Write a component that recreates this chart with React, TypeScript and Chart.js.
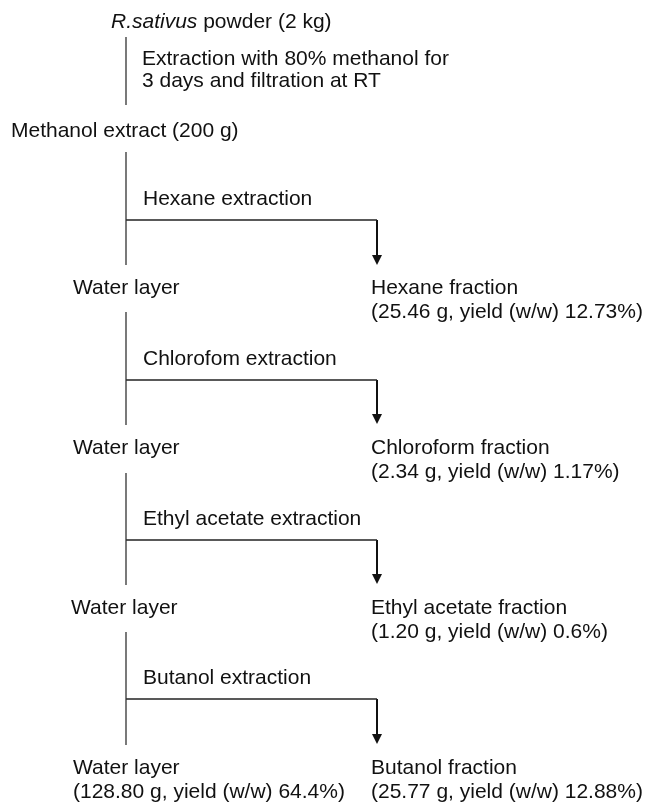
import React, { useEffect, useRef } from "react";
import { Chart, registerables } from "chart.js";

Chart.register(...registerables);

// ---- content ----
const startMaterialItalic = "R.sativus";
const startMaterialRest = " powder (2 kg)";
const firstStepLines = ["Extraction with 80% methanol for", "3 days and filtration at RT"];
const extractName = "Methanol extract (200 g)";
const stepLabels = ["Hexane extraction", "Chlorofom extraction", "Ethyl acetate extraction", "Butanol extraction"];
const fractionNames = ["Hexane fraction", "Chloroform fraction", "Ethyl acetate fraction", "Butanol fraction"];
const fractionDetails = [
  "(25.46 g, yield (w/w) 12.73%)",
  "(2.34 g, yield (w/w) 1.17%)",
  "(1.20 g, yield (w/w) 0.6%)",
  "(25.77 g, yield (w/w) 12.88%)",
];
const waterLabel = "Water layer";
const finalWaterDetail = "(128.80 g, yield (w/w) 64.4%)";

// ---- layout (diagram units) ----
const W = 648;
const H = 803;
const stemX = 126;
const branchX = 377;
const stemSegments: [number, number][] = [
  [37, 105],
  [152, 265],
  [312, 425],
  [473, 585],
  [632, 745],
];
const branchY = [220, 380, 540, 699];
const arrowTipY = [265, 424, 584, 744];
const waterX = [73, 73, 71, 73];
const nodeBaseY = [294, 454, 614, 774];
const lineGap = 24;

const FONT = '"Liberation Sans", Arial, Helvetica, sans-serif';
const FONT_SIZE = 21;
const INK = "#111111";

type Label = { text: string; x: number; y: number; italic?: boolean; after?: string };

function buildLabels(): Label[] {
  const labels: Label[] = [];
  labels.push({ text: startMaterialItalic, x: 111, y: 28, italic: true, after: startMaterialRest });
  firstStepLines.forEach((t, i) => labels.push({ text: t, x: 142, y: 65 + i * 22 }));
  labels.push({ text: extractName, x: 11, y: 137 });
  stepLabels.forEach((t, i) => labels.push({ text: t, x: 143, y: branchY[i] - 15 }));
  fractionNames.forEach((t, i) => {
    labels.push({ text: t, x: 371, y: nodeBaseY[i] });
    labels.push({ text: fractionDetails[i], x: 371, y: nodeBaseY[i] + lineGap });
  });
  nodeBaseY.forEach((y, i) => labels.push({ text: waterLabel, x: waterX[i], y }));
  labels.push({ text: finalWaterDetail, x: 73, y: nodeBaseY[3] + lineGap });
  return labels;
}

const textPlugin = {
  id: "flowText",
  afterDatasetsDraw(chart: any) {
    const { ctx, scales } = chart;
    const sx = scales.x;
    const sy = scales.y;
    ctx.save();
    // arrowheads
    ctx.fillStyle = INK;
    arrowTipY.forEach((tip) => {
      const px = sx.getPixelForValue(branchX);
      const py = sy.getPixelForValue(tip);
      ctx.beginPath();
      ctx.moveTo(px, py);
      ctx.lineTo(px - 5, py - 10);
      ctx.lineTo(px + 5, py - 10);
      ctx.closePath();
      ctx.fill();
    });
    // labels
    ctx.fillStyle = INK;
    ctx.textBaseline = "alphabetic";
    ctx.textAlign = "left";
    buildLabels().forEach((l) => {
      const px = sx.getPixelForValue(l.x);
      const py = sy.getPixelForValue(l.y);
      ctx.font = `${l.italic ? "italic " : ""}${FONT_SIZE}px ${FONT}`;
      ctx.fillText(l.text, px, py);
      if (l.after) {
        const w = ctx.measureText(l.text).width;
        ctx.font = `${FONT_SIZE}px ${FONT}`;
        ctx.fillText(l.after, px + w, py);
      }
    });
    ctx.restore();
  },
};

export default function App() {
  const ref = useRef<HTMLCanvasElement | null>(null);

  useEffect(() => {
    document.body.style.margin = "0";
    const canvas = ref.current;
    if (!canvas) return;

    const datasets: any[] = [];
    stemSegments.forEach(([a, b]) => {
      datasets.push({
        data: [
          { x: stemX, y: a },
          { x: stemX, y: b },
        ],
        borderColor: "#333333",
        borderWidth: 1.3,
      });
    });
    branchY.forEach((y, i) => {
      datasets.push({
        data: [
          { x: stemX, y },
          { x: branchX, y },
        ],
        borderColor: "#222222",
        borderWidth: 1.3,
      });
      datasets.push({
        data: [
          { x: branchX, y },
          { x: branchX, y: arrowTipY[i] - 8 },
        ],
        borderColor: INK,
        borderWidth: 2,
      });
    });
    datasets.forEach((d) => {
      d.showLine = true;
      d.pointRadius = 0;
      d.fill = false;
      d.tension = 0;
      d.borderCapStyle = "butt";
    });

    const chart = new Chart(canvas, {
      type: "scatter",
      data: { datasets },
      options: {
        responsive: false,
        animation: false,
        events: [],
        layout: { padding: 0 },
        plugins: { legend: { display: false }, tooltip: { enabled: false }, title: { display: false } },
        scales: {
          x: { type: "linear", min: 0, max: W, display: false },
          y: { type: "linear", min: 0, max: H, reverse: true, display: false },
        },
      },
      plugins: [textPlugin],
    });
    return () => chart.destroy();
  }, []);

  return (
    <div style={{ width: W, height: H, background: "#fff" }}>
      <canvas ref={ref} width={W} height={H} style={{ display: "block", width: W, height: H }} />
    </div>
  );
}
